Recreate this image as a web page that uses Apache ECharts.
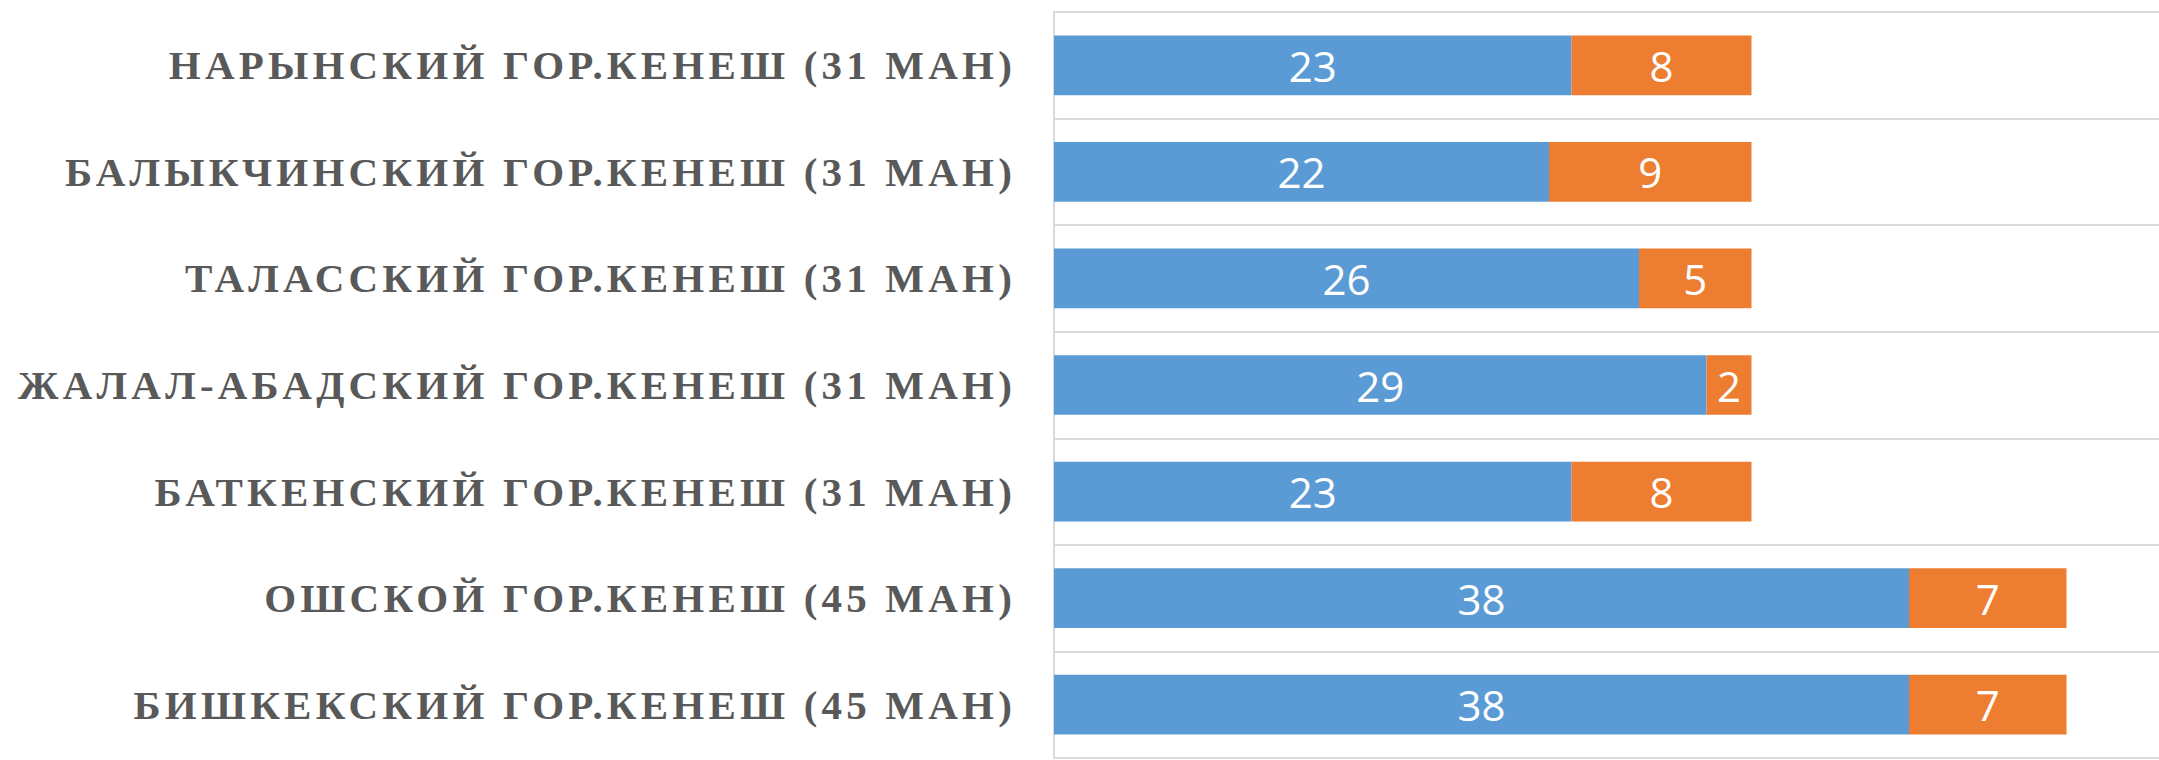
<!DOCTYPE html>
<html lang="ru">
<head>
    <meta charset="UTF-8">
    <title>Гор.кенеш</title>
    <script src="https://cdn.jsdelivr.net/npm/echarts@6/dist/echarts.min.js"></script>
    <style>
        html, body { margin: 0; padding: 0; background: #fff; }
        /* разрядка для подписей категорий */
        #main text[style*="Liberation Serif"] { letter-spacing: 4.2px; }
    </style>
</head>
<body>
<div id="main" style="width: 2159px;height: 760px"></div>
<script>
    var categories = [
        'НАРЫНСКИЙ ГОР.КЕНЕШ (31 МАН)',
        'БАЛЫКЧИНСКИЙ ГОР.КЕНЕШ (31 МАН)',
        'ТАЛАССКИЙ ГОР.КЕНЕШ (31 МАН)',
        'ЖАЛАЛ-АБАДСКИЙ ГОР.КЕНЕШ (31 МАН)',
        'БАТКЕНСКИЙ ГОР.КЕНЕШ (31 МАН)',
        'ОШСКОЙ ГОР.КЕНЕШ (45 МАН)',
        'БИШКЕКСКИЙ ГОР.КЕНЕШ (45 МАН)'
    ];
    var blueData = [23, 22, 26, 29, 23, 38, 38];
    var orangeData = [8, 9, 5, 2, 8, 7, 7];

    var myChart = echarts.init(document.getElementById('main'), null, {renderer: 'svg'});

    var barLabel = {
        show: true,
        position: 'inside',
        color: '#fff',
        fontFamily: 'Open Sans',
        fontSize: 42
    };

    var option = {
        animation: false,
        grid: {
            left: 1054,
            top: 12,
            width: 1125,
            height: 746,
            outerBoundsMode: 'none'
        },
        xAxis: {
            type: 'value',
            min: 0,
            max: 50,
            axisLine: {show: false},
            axisTick: {show: false},
            axisLabel: {show: false},
            splitLine: {show: false}
        },
        yAxis: {
            type: 'category',
            inverse: true,
            data: categories,
            axisLine: {show: true, lineStyle: {color: '#d9d9d9', width: 2}},
            axisTick: {show: false},
            axisLabel: {
                margin: 38,
                color: '#595959',
                fontFamily: 'Liberation Serif',
                fontWeight: 'bold',
                fontSize: 41
            },
            splitLine: {show: true, lineStyle: {color: '#d9d9d9', width: 2}}
        },
        series: [
            {
                name: 'blue',
                type: 'bar',
                stack: 'total',
                barWidth: '56%',
                itemStyle: {color: '#5b9bd5'},
                label: barLabel,
                data: blueData
            },
            {
                name: 'orange',
                type: 'bar',
                stack: 'total',
                itemStyle: {color: '#ed7d31'},
                label: barLabel,
                data: orangeData
            }
        ]
    };

    myChart.setOption(option);
</script>
</body>
</html>
